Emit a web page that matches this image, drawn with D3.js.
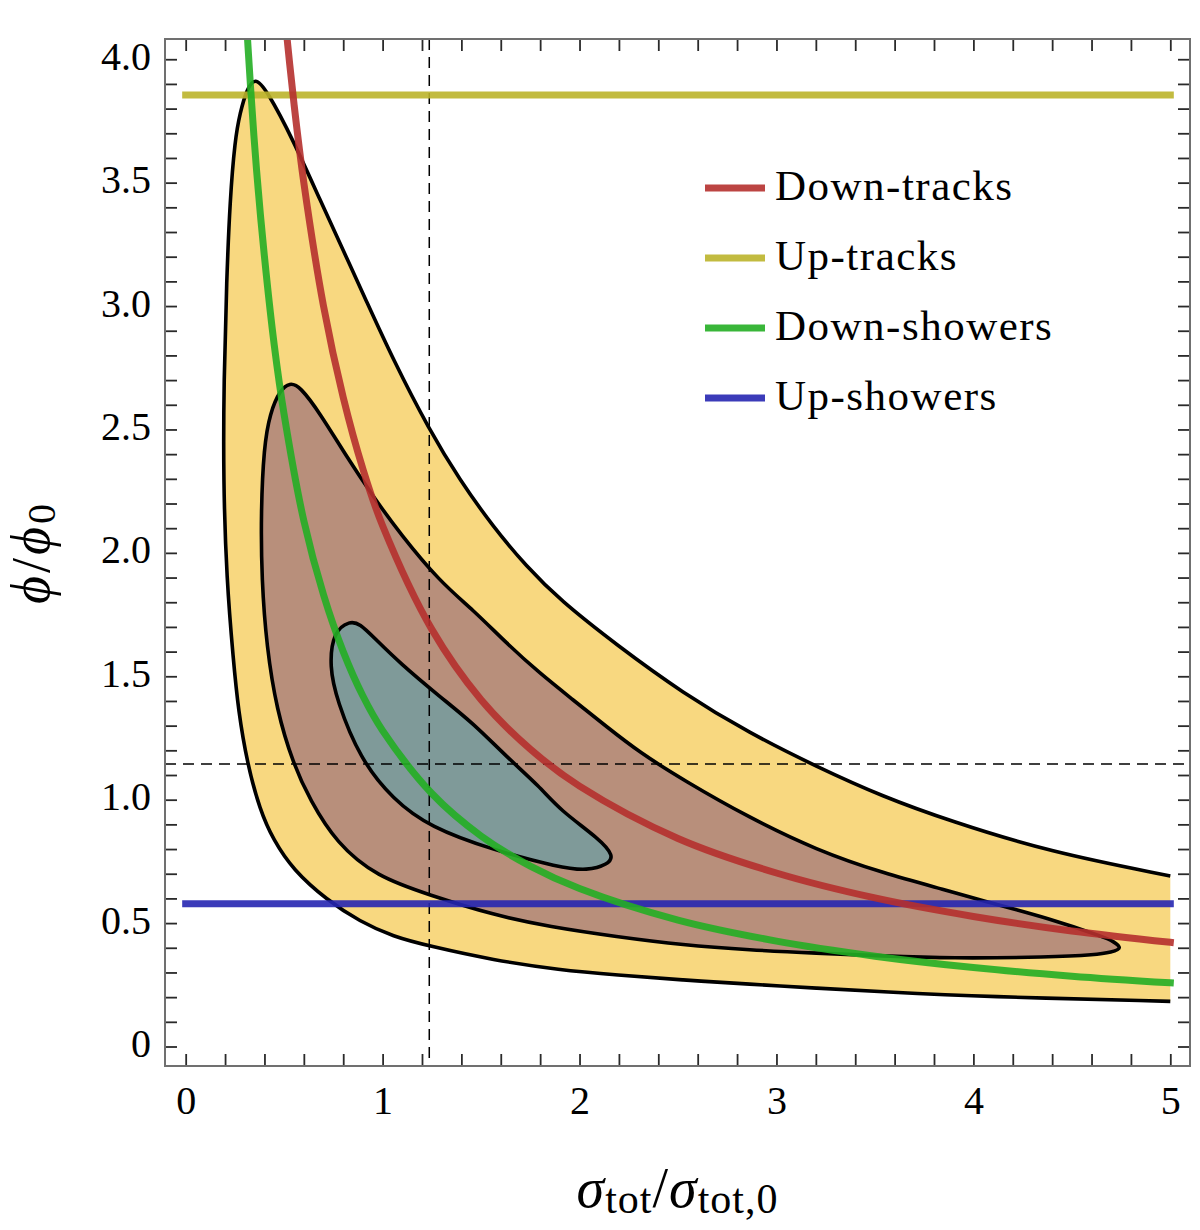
<!DOCTYPE html>
<html>
<head>
<meta charset="utf-8">
<script src="https://cdn.jsdelivr.net/npm/d3@7"></script>
<style>
  body { margin: 0; background: #fff; }
  svg text { font-family: "Liberation Serif", serif; fill: #000; }
</style>
</head>
<body>
<div id="chart"></div>
<script>
// ---- data ----
const xTickLabels = [0, 1, 2, 3, 4, 5];
const yTickLabels = [0, 0.5, 1.0, 1.5, 2.0, 2.5, 3.0, 3.5, 4.0];

const seriesNames = ["Down-tracks", "Up-tracks", "Down-showers", "Up-showers"];

// down-going curves (sampled along the drawn line)
const downTracks = [
  [0.5, 4.2], [0.55, 3.82], [0.6, 3.5], [0.7, 3.0], [0.8, 2.63], [0.9, 2.34],
  [1.0, 2.11], [1.25, 1.69], [1.5, 1.405], [1.75, 1.205], [2.0, 1.055],
  [2.5, 0.843], [3.0, 0.703], [3.5, 0.602], [4.0, 0.527], [4.5, 0.468], [5.0, 0.422]
];
const downShowers = [
  [0.3, 4.27], [0.33, 3.88], [0.36, 3.55], [0.4, 3.2], [0.45, 2.84], [0.5, 2.56],
  [0.6, 2.13], [0.7, 1.83], [0.8, 1.6], [0.9, 1.42], [1.0, 1.28], [1.25, 1.025],
  [1.5, 0.853], [1.75, 0.731], [2.0, 0.64], [2.5, 0.512], [3.0, 0.427],
  [3.5, 0.366], [4.0, 0.32], [4.5, 0.285], [5.0, 0.258]
];
// up-going bands are flat
const upTracks = [[0, 3.855], [5, 3.855]];
const upShowers = [[0, 0.578], [5, 0.578]];

// best-fit point (dashed lines)
const bestFit = [1.237, 1.145];

// confidence regions (control points of the drawn outlines)
const outerRegion = [
  [5.0, 0.183], [4.047, 0.202], [3.541, 0.222], [3.203, 0.236], [2.864, 0.253],
  [2.526, 0.269], [2.188, 0.290], [1.900, 0.310], [1.561, 0.350], [1.237, 0.407],
  [1.054, 0.445], [0.885, 0.506], [0.716, 0.594], [0.546, 0.715], [0.445, 0.837],
  [0.377, 0.958], [0.313, 1.145], [0.267, 1.363], [0.242, 1.566], [0.208, 1.890],
  [0.191, 2.295], [0.194, 2.701], [0.208, 3.106], [0.225, 3.430], [0.250, 3.673],
  [0.276, 3.783], [0.310, 3.878], [0.352, 3.928], [0.411, 3.876], [0.546, 3.673],
  [0.682, 3.430], [0.804, 3.219], [0.915, 3.025], [1.054, 2.782], [1.237, 2.498],
  [1.392, 2.295], [1.561, 2.106], [1.731, 1.944], [1.900, 1.809], [2.188, 1.627],
  [2.526, 1.431], [2.864, 1.269], [3.203, 1.134], [3.541, 1.012], [3.880, 0.914],
  [4.387, 0.788], [5.0, 0.691]
];
const middleRegion = [
  [0.529, 2.690], [0.479, 2.660], [0.428, 2.566], [0.397, 2.430], [0.382, 2.160],
  [0.386, 1.890], [0.411, 1.620], [0.462, 1.363], [0.546, 1.145], [0.631, 0.999],
  [0.766, 0.823], [0.970, 0.688], [1.237, 0.614], [1.561, 0.533], [1.849, 0.485],
  [2.188, 0.445], [2.526, 0.411], [2.864, 0.391], [3.203, 0.378], [3.541, 0.367],
  [3.880, 0.357], [4.387, 0.362], [4.624, 0.372], [4.700, 0.382], [4.760, 0.398],
  [4.705, 0.428], [4.675, 0.440], [4.387, 0.519], [4.049, 0.590], [3.880, 0.630],
  [3.541, 0.702], [3.203, 0.796], [2.864, 0.926], [2.526, 1.080], [2.306, 1.191],
  [2.137, 1.296], [1.968, 1.404], [1.798, 1.512], [1.629, 1.634], [1.460, 1.769],
  [1.291, 1.883], [1.088, 2.079], [0.952, 2.228], [0.817, 2.390], [0.682, 2.566],
  [0.580, 2.675]
];
const innerRegion = [
  [0.834, 1.725], [0.749, 1.680], [0.730, 1.539], [0.767, 1.404], [0.885, 1.165],
  [1.054, 1.000], [1.240, 0.889], [1.561, 0.796], [1.900, 0.725], [2.040, 0.712],
  [2.145, 0.738], [2.175, 0.772], [2.103, 0.840], [1.900, 0.958], [1.798, 1.053],
  [1.629, 1.174], [1.460, 1.310], [1.291, 1.417], [1.088, 1.553], [0.952, 1.660],
  [0.885, 1.712]
];

// ---- styles ----
const lineColors = {
  "Down-tracks": "#b5302e",
  "Up-tracks": "#bbb42b",
  "Down-showers": "#24ae24",
  "Up-showers": "#2626b1"
};
const regionFill = ["#f8d880", "#b88f7b", "#7f9a99"];

const W = 1200, H = 1230;
const plot = { left: 165, right: 1190, top: 39, bottom: 1066 };

const svg = d3.select("#chart").append("svg")
    .attr("width", W)
    .attr("height", H)
    .attr("viewBox", `0 0 ${W} ${H}`);

const x = d3.scaleLinear().domain([-0.105, 5.1]).range([plot.left, plot.right]);
const y = d3.scaleLinear().domain([-0.079, 4.082]).range([plot.bottom, plot.top]);

svg.append("clipPath").attr("id", "clip")
  .append("rect")
    .attr("x", plot.left).attr("y", plot.top)
    .attr("width", plot.right - plot.left)
    .attr("height", plot.bottom - plot.top);

const g = svg.append("g").attr("clip-path", "url(#clip)");

const smooth = d3.line().x(d => x(d[0])).y(d => y(d[1])).curve(d3.curveCatmullRom.alpha(0.5));
const outline = d3.line().x(d => x(d[0])).y(d => y(d[1])).curve(d3.curveBasis);
const outlineClosed = d3.line().x(d => x(d[0])).y(d => y(d[1])).curve(d3.curveBasisClosed);

// outer region: cut by x = 5, so the border is open there
g.append("path")
    .attr("d", outline(outerRegion))
    .attr("fill", regionFill[0])
    .attr("stroke", "none");
g.append("path")
    .attr("d", outline(outerRegion))
    .attr("fill", "none")
    .attr("stroke", "#000")
    .attr("stroke-width", 3.6)
    .attr("stroke-linejoin", "round");

[middleRegion, innerRegion].forEach((pts, i) => {
  g.append("path")
      .attr("d", outlineClosed(pts))
      .attr("fill", regionFill[i + 1])
      .attr("stroke", "#000")
      .attr("stroke-width", 3.6)
      .attr("stroke-linejoin", "round");
});

// best-fit dashed lines
g.append("line")
    .attr("x1", x(bestFit[0])).attr("x2", x(bestFit[0]))
    .attr("y1", plot.top).attr("y2", plot.bottom)
    .attr("stroke", "#000").attr("stroke-width", 1.5)
    .attr("stroke-dasharray", "11,7");
g.append("line")
    .attr("x1", plot.left).attr("x2", plot.right)
    .attr("y1", y(bestFit[1])).attr("y2", y(bestFit[1]))
    .attr("stroke", "#000").attr("stroke-width", 1.5)
    .attr("stroke-dasharray", "11,7");

// experiment curves
const curves = [
  ["Up-tracks", upTracks],
  ["Up-showers", upShowers],
  ["Down-tracks", downTracks],
  ["Down-showers", downShowers]
];
curves.forEach(([name, pts]) => {
  g.append("path")
      .attr("d", smooth(pts))
      .attr("fill", "none")
      .attr("stroke", lineColors[name])
      .attr("stroke-opacity", 0.9)
      .attr("stroke-width", 7)
      .attr("stroke-linecap", "square");
});

// ---- axes (ticks inside on all four sides) ----
const minorX = d3.range(0, 26).map(i => i * 0.2);
const minorY = d3.range(0, 41).map(i => i * 0.1);
const isLabelX = d => xTickLabels.some(v => Math.abs(v - d) < 1e-6);
const isLabelY = d => yTickLabels.some(v => Math.abs(v - d) < 1e-6);

const axB = svg.append("g")
    .attr("transform", `translate(0,${plot.bottom})`)
    .call(d3.axisBottom(x).tickValues(minorX).tickSize(-12).tickPadding(20)
      .tickFormat(d => isLabelX(d) ? d3.format("d")(Math.round(d)) : ""));
const axL = svg.append("g")
    .attr("transform", `translate(${plot.left},0)`)
    .call(d3.axisLeft(y).tickValues(minorY).tickSize(-12).tickPadding(14)
      .tickFormat(d => isLabelY(d) ? (Math.abs(d) < 1e-6 ? "0" : d.toFixed(1)) : ""));
const axT = svg.append("g")
    .attr("transform", `translate(0,${plot.top})`)
    .call(d3.axisTop(x).tickValues(minorX).tickSize(-12).tickFormat(""));
const axR = svg.append("g")
    .attr("transform", `translate(${plot.right},0)`)
    .call(d3.axisRight(y).tickValues(minorY).tickSize(-12).tickFormat(""));

[axB, axL, axT, axR].forEach(a => {
  a.attr("font-family", "Liberation Serif");
  a.select(".domain").remove();
  a.selectAll(".tick line").attr("stroke", "#2a2a2a").attr("stroke-width", 1.8);
  a.selectAll(".tick text")
      .style("font-size", "40px")
      .attr("fill", "#000");
});
axL.selectAll(".tick text").attr("dy", "0.25em");

svg.append("rect")
    .attr("x", plot.left).attr("y", plot.top)
    .attr("width", plot.right - plot.left)
    .attr("height", plot.bottom - plot.top)
    .attr("fill", "none")
    .attr("stroke", "#707070")
    .attr("stroke-width", 2);

// ---- axis labels ----
const xl = svg.append("text")
    .attr("x", (plot.left + plot.right) / 2)
    .attr("y", 1207)
    .attr("text-anchor", "middle")
    .style("font-size", "56px")
    .style("letter-spacing", "1px");
xl.append("tspan").style("font-style", "italic").text("σ");
xl.append("tspan").style("font-size", "42px").attr("dy", 6).text("tot");
xl.append("tspan").attr("dy", -6).text("/");
xl.append("tspan").style("font-style", "italic").text("σ");
xl.append("tspan").style("font-size", "42px").attr("dy", 6).text("tot,0");

const yl = svg.append("text")
    .attr("transform", `translate(49,${(plot.top + plot.bottom) / 2}) rotate(-90)`)
    .attr("text-anchor", "middle")
    .style("font-size", "54px")
    .style("letter-spacing", "3px");
yl.append("tspan").style("font-style", "italic").text("ϕ");
yl.append("tspan").text("/");
yl.append("tspan").style("font-style", "italic").text("ϕ");
yl.append("tspan").style("font-size", "40px").attr("dy", 6).text("0");

// ---- legend ----
const legend = svg.append("g").attr("transform", "translate(705,188)");
seriesNames.forEach((name, i) => {
  const row = legend.append("g").attr("transform", `translate(0,${i * 70})`);
  row.append("line")
      .attr("x1", 0).attr("x2", 60)
      .attr("y1", 0).attr("y2", 0)
      .attr("stroke", lineColors[name])
      .attr("stroke-opacity", 0.9)
      .attr("stroke-width", 7);
  row.append("text")
      .attr("x", 70)
      .attr("y", 12)
      .style("font-size", "43px")
      .style("letter-spacing", "1.5px")
      .text(name);
});
</script>
</body>
</html>
